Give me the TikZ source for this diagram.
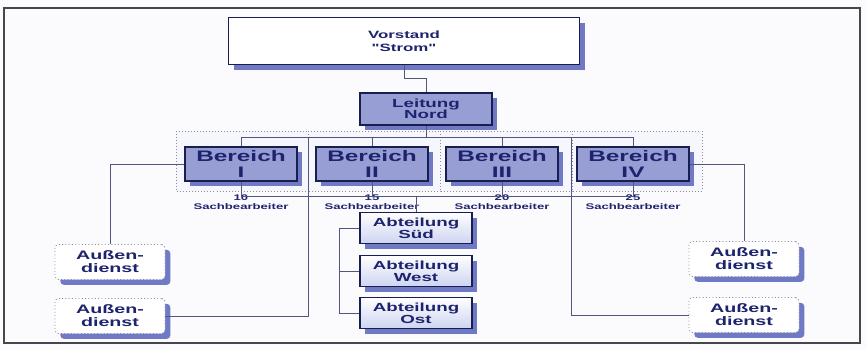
\documentclass[tikz,border=0pt]{standalone}
\usepackage{fontspec}
\newfontfamily\chartfont[FakeStretch=1.6]{Liberation Sans}
\usepackage{tikz}
\usetikzlibrary{positioning,shadows}
\definecolor{textnavy}{RGB}{30, 35, 110}
\definecolor{boxnavy}{RGB}{25, 30, 80}
\definecolor{bereichblue}{RGB}{150, 158, 212}
\definecolor{shadowblue}{RGB}{112, 122, 196}
\definecolor{abtblue}{RGB}{205, 212, 240}
\definecolor{linegray}{RGB}{80, 85, 130}
\definecolor{framegray}{RGB}{70, 70, 80}
\definecolor{dotgray}{RGB}{140, 140, 160}
\definecolor{framefill}{RGB}{246, 247, 252}
\definecolor{paper}{RGB}{251, 251, 253}

\begin{document}
\begin{tikzpicture}[x=0.03cm,y=-0.03cm,
    conn/.style={draw=linegray,line width=0.7pt},
    boxshadow/.style={drop shadow={fill=shadowblue,opacity=1,shadow xshift=0.16cm,shadow yshift=-0.16cm}},
    chart/.style={text=textnavy,align=center,inner sep=0pt},
    topbox/.style={chart,draw=boxnavy,line width=0.9pt,fill=white,boxshadow,
        minimum width=10.53cm,minimum height=1.41cm,font=\chartfont\bfseries\fontsize{9}{11.3}\selectfont},
    leadbox/.style={chart,draw=boxnavy,line width=1pt,fill=bereichblue,boxshadow,
        minimum width=3.96cm,minimum height=0.96cm,font=\chartfont\bfseries\fontsize{10}{9.5}\selectfont},
    bereichbox/.style={chart,draw=boxnavy,line width=1.1pt,fill=bereichblue,boxshadow,
        minimum width=3.36cm,minimum height=1.02cm,font=\chartfont\bfseries\fontsize{13}{13.6}\selectfont},
    abtbox/.style={chart,draw=boxnavy,line width=1pt,top color=white,bottom color=abtblue,boxshadow,
        minimum width=3.36cm,minimum height=0.95cm,font=\chartfont\bfseries\fontsize{10}{10}\selectfont},
    dienstbox/.style={chart,draw=dotgray,dotted,line width=0.8pt,rounded corners=3pt,fill=white,boxshadow,
        minimum width=3.3cm,minimum height=1.05cm,font=\chartfont\bfseries\fontsize{10.5}{11}\selectfont},
    note/.style={chart,font=\chartfont\bfseries\fontsize{7}{7.5}\selectfont},
    teamframe/.style={draw=dotgray,dotted,fill=framefill,line width=0.6pt}]
    \useasboundingbox (0,0) rectangle (867,350);
    \fill[paper] (0,0) rectangle (867,350);
    \draw[framegray,line width=1.1pt] (4,8) rectangle (860,343);
    % dotted frames round the Bereiche
    \foreach \xa/\xb in {176/308,308/440,440/572,572/702}
        \draw[teamframe] (\xa,131) rectangle (\xb,191);

    % boxes
    \node[topbox] (vorstand) at (404,41) {Vorstand\\"Strom"};
    \node[leadbox] (leitung) at (426,109) {Leitung\\Nord};
    \node[bereichbox] (b1) at (241,164) {Bereich\\I};
    \node[bereichbox] (b2) at (372,164) {Bereich\\II};
    \node[bereichbox] (b3) at (502,164) {Bereich\\III};
    \node[bereichbox] (b4) at (633,164) {Bereich\\IV};
    \node[note,below=0.4cm of b1] (n1) {10\\Sachbearbeiter};
    \node[note,below=0.4cm of b2] (n2) {15\\Sachbearbeiter};
    \node[note,below=0.4cm of b3] (n3) {20\\Sachbearbeiter};
    \node[note,below=0.4cm of b4] (n4) {25\\Sachbearbeiter};
    \node[abtbox] (sued) at (416,228) {Abteilung\\Süd};
    \node[abtbox] (west) at (416,271) {Abteilung\\West};
    \node[abtbox] (ost) at (416,313) {Abteilung\\Ost};
    \node[dienstbox] (ul) at (110,262) {Außen-\\dienst};
    \node[dienstbox] (ll) at (110,316) {Außen-\\dienst};
    \node[dienstbox] (ur) at (744,259) {Außen-\\dienst};
    \node[dienstbox] (lr) at (744,315) {Außen-\\dienst};

    % connectors
    \coordinate (busL) at (241,137);
    \coordinate (busR) at (633,137);
    \coordinate (subL) at (241,196);
    \coordinate (subR) at (633,196);
    \coordinate (dropL) at (308,137);
    \coordinate (dropR) at (571,137);
    \draw[conn] (vorstand.south) -- ++(0,13) -| (leitung.north);
    \draw[conn] (leitung.south) -- (leitung.south |- busL);
    \draw[conn] (b1.north) |- (busR) -- (b4.north);
    \foreach \b in {b2,b3}
        \draw[conn] (\b.north) -- (\b.north |- busL);
    \draw[conn] (b1.south) |- (subR) -- (b4.south);
    \foreach \b in {b2,b3}
        \draw[conn] (\b.south) -- (\b.south |- subL);
    \draw[conn] (sued.north) -- (sued.north |- subL);
    \draw[conn] (sued.west) -- ++(-20,0) |- (ost.west);
    \draw[conn] (west.west) -- ++(-20,0);
    \draw[conn] (b1.west) -| (ul.north);
    \draw[conn] (b4.east) -| (ur.north);
    \draw[conn] (ll.east) -| (dropL);
    \draw[conn] (lr.west) -| (dropR);
\end{tikzpicture}
\end{document}
